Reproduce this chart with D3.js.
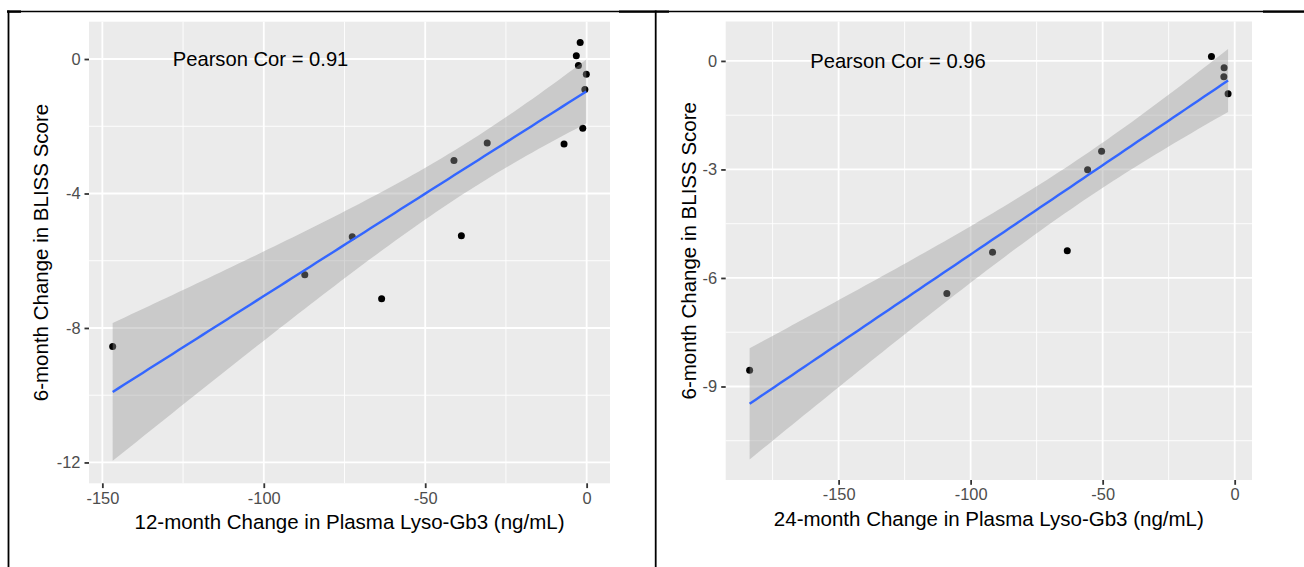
<!DOCTYPE html>
<html>
<head>
<meta charset="utf-8">
<script src="https://cdn.jsdelivr.net/npm/d3@7"></script>
<style>
  html, body { margin: 0; padding: 0; background: #ffffff; }
  svg { display: block; }
  text { font-family: "Liberation Sans", Arial, sans-serif; }
</style>
</head>
<body>
<svg id="chart" width="1304" height="567"></svg>
<script>
// ---------------- DATA ----------------
// Panel 1: 12-month change in plasma Lyso-Gb3 vs 6-month change in BLISS score
const lysoChange12 = [-146.8, -87.3, -72.6, -63.5, -41.1, -38.8, -30.8, -7.0, -3.2, -2.0, -2.55, -0.1, -0.55, -1.2];
const blissChangeA = [-8.55, -6.42, -5.29, -7.13, -3.02, -5.26, -2.50, -2.53, 0.10, 0.49, -0.19, -0.45, -0.91, -2.06];
// Panel 2: 24-month change in plasma Lyso-Gb3 vs 6-month change in BLISS score
const lysoChange24 = [-183.7, -109.0, -91.7, -63.4, -55.7, -50.4, -8.8, -4.0, -4.1, -2.5];
const blissChangeB = [-8.55, -6.43, -5.29, -5.25, -3.01, -2.50, 0.12, -0.19, -0.44, -0.91];

const xTicksA = [-150, -100, -50, 0];
const yTicksA = [0, -4, -8, -12];
const xTicksB = [-150, -100, -50, 0];
const yTicksB = [0, -3, -6, -9];

// visible axis limits
const yLimitsA = [-12.62, 1.11];
const yLimitsB = [-11.585, 1.09];

const xTitles = ["12-month Change in Plasma Lyso-Gb3 (ng/mL)", "24-month Change in Plasma Lyso-Gb3 (ng/mL)"];
const yTitle = "6-month Change in BLISS Score";
const pearsonLabels = ["Pearson Cor = 0.91", "Pearson Cor = 0.96"];
const labelAnchorX = [-101, -127.5];   // data x of the correlation label
const labelAnchorY = [0, 0];           // data y of the correlation label

// ---------------- LAYOUT ----------------
const panels = [
  { x: lysoChange12, y: blissChangeA, xt: xTicksA, yt: yTicksA, yl: yLimitsA,
    box: { x0: 89, x1: 610, y0: 21.7, y1: 483.3 }, yTitleX: 40 },
  { x: lysoChange24, y: blissChangeB, xt: xTicksB, yt: yTicksB, yl: yLimitsB,
    box: { x0: 725.7, x1: 1252, y0: 21.5, y1: 480 }, yTitleX: 688 }
];

const svg = d3.select("#chart");

// ---------------- table borders ----------------
const borders = svg.append("g").attr("stroke", "#000");
borders.append("line").attr("x1", 7).attr("x2", 1304).attr("y1", 11.5).attr("y2", 11.5).attr("stroke-width", 1.6);
[[7, 21], [619, 669], [1263, 1304]].forEach(s => {
  borders.append("line").attr("x1", s[0]).attr("x2", s[1]).attr("y1", 11.6).attr("y2", 11.6).attr("stroke-width", 2.4);
});
borders.append("line").attr("x1", 8.5).attr("x2", 8.5).attr("y1", 10.5).attr("y2", 567).attr("stroke-width", 1.8);
borders.append("line").attr("x1", 655.7).attr("x2", 655.7).attr("y1", 10.5).attr("y2", 567).attr("stroke-width", 1.8);

// ---------------- stats helpers ----------------
function tQuantile975(df) {
  // with t = sqrt(df) tan(th): P(0<T<t) = 0.5 * int_0^th cos^(df-1) / int_0^(pi/2) cos^(df-1)
  const f = th => Math.pow(Math.cos(th), df - 1);
  const simpson = (a, b, n) => {
    const h = (b - a) / n; let acc = f(a) + f(b);
    for (let i = 1; i < n; i++) acc += f(a + i * h) * (i % 2 ? 4 : 2);
    return acc * h / 3;
  };
  const total = simpson(0, Math.PI / 2, 2000);
  let lo = 0, hi = Math.PI / 2;
  for (let k = 0; k < 60; k++) {
    const mid = (lo + hi) / 2;
    if (simpson(0, mid, 2000) / total < 0.95) lo = mid; else hi = mid;
  }
  return Math.sqrt(df) * Math.tan((lo + hi) / 2);
}

function fitLm(xs, ys) {
  const n = xs.length;
  const mx = d3.mean(xs), my = d3.mean(ys);
  let sxx = 0, sxy = 0, syy = 0;
  for (let i = 0; i < n; i++) {
    const dx = xs[i] - mx, dy = ys[i] - my;
    sxx += dx * dx; sxy += dx * dy; syy += dy * dy;
  }
  const b = sxy / sxx, a = my - b * mx;
  const sd = Math.sqrt((syy - sxy * sxy / sxx) / (n - 2));
  const tc = tQuantile975(n - 2);
  const [xmin, xmax] = d3.extent(xs);
  return d3.range(80).map(i => {
    const x = xmin + (xmax - xmin) * i / 79;
    const fit = a + b * x;
    const se = sd * Math.sqrt(1 / n + (x - mx) * (x - mx) / sxx);
    return { x, fit, lo: fit - tc * se, hi: fit + tc * se };
  });
}

// ---------------- panels ----------------
panels.forEach((p, idx) => {
  const band = fitLm(p.x, p.y);
  const xr = d3.extent(p.x);
  const ex = (xr[1] - xr[0]) * 0.05;
  const x = d3.scaleLinear().domain([xr[0] - ex, xr[1] + ex]).range([p.box.x0, p.box.x1]);
  const y = d3.scaleLinear().domain(p.yl).range([p.box.y1, p.box.y0]);

  const g = svg.append("g");
  g.append("rect").attr("x", p.box.x0).attr("y", p.box.y0)
    .attr("width", p.box.x1 - p.box.x0).attr("height", p.box.y1 - p.box.y0).attr("fill", "#EBEBEB");

  const xStep = p.xt[1] - p.xt[0];
  const yStep = p.yt[0] - p.yt[1];
  const xMinor = d3.range(-20, 20).map(k => p.xt[0] + xStep * (k + 0.5)).filter(v => v > x.domain()[0] && v < x.domain()[1]);
  const yMinor = d3.range(-20, 20).map(k => p.yt[0] - yStep * (k + 0.5)).filter(v => v > y.domain()[0] && v < y.domain()[1]);

  const grid = g.append("g").attr("stroke", "#ffffff");
  grid.selectAll(".mx").data(xMinor).join("line")
    .attr("x1", d => x(d)).attr("x2", d => x(d)).attr("y1", p.box.y0).attr("y2", p.box.y1).attr("stroke-width", 0.9);
  grid.selectAll(".my").data(yMinor).join("line")
    .attr("y1", d => y(d)).attr("y2", d => y(d)).attr("x1", p.box.x0).attr("x2", p.box.x1).attr("stroke-width", 0.9);
  grid.selectAll(".Mx").data(p.xt).join("line")
    .attr("x1", d => x(d)).attr("x2", d => x(d)).attr("y1", p.box.y0).attr("y2", p.box.y1).attr("stroke-width", 1.8);
  grid.selectAll(".My").data(p.yt).join("line")
    .attr("y1", d => y(d)).attr("y2", d => y(d)).attr("x1", p.box.x0).attr("x2", p.box.x1).attr("stroke-width", 1.8);

  // points
  g.append("g").selectAll("circle").data(p.x.map((v, i) => [v, p.y[i]])).join("circle")
    .attr("cx", d => x(d[0])).attr("cy", d => y(d[1])).attr("r", 3.5).attr("fill", "#000");

  // ribbon
  g.append("path").datum(band)
    .attr("d", d3.area().x(d => x(d.x)).y0(d => y(d.lo)).y1(d => y(d.hi)))
    .attr("fill", "#999999").attr("fill-opacity", 0.4);
  // fitted line
  g.append("path").datum(band)
    .attr("d", d3.line().x(d => x(d.x)).y(d => y(d.fit)))
    .attr("fill", "none").attr("stroke", "#3366FF").attr("stroke-width", 2.4);

  // annotation
  g.append("text").attr("x", x(labelAnchorX[idx])).attr("y", y(labelAnchorY[idx]))
    .attr("text-anchor", "middle").attr("dominant-baseline", "central")
    .attr("font-size", 20.2).attr("fill", "#000").text(pearsonLabels[idx]);

  // axes
  const xAxis = d3.axisBottom(x).tickValues(p.xt).tickFormat(d => String(d)).tickSize(4.8).tickPadding(4);
  const ax = g.append("g").attr("transform", `translate(0,${p.box.y1})`).call(xAxis);
  ax.select(".domain").remove();
  ax.selectAll("line").attr("stroke", "#333333").attr("stroke-width", 1.8);
  ax.selectAll("text").attr("font-size", 16.4).attr("fill", "#4D4D4D")
    .attr("font-family", "Liberation Sans, Arial, sans-serif");

  const yAxis = d3.axisLeft(y).tickValues(p.yt).tickFormat(d => String(d)).tickSize(4.5).tickPadding(4);
  const ay = g.append("g").attr("transform", `translate(${p.box.x0},0)`).call(yAxis);
  ay.select(".domain").remove();
  ay.selectAll("line").attr("stroke", "#333333").attr("stroke-width", 1.8);
  ay.selectAll("text").attr("font-size", 16.4).attr("fill", "#4D4D4D")
    .attr("font-family", "Liberation Sans, Arial, sans-serif");

  // titles
  g.append("text").attr("x", (p.box.x0 + p.box.x1) / 2).attr("y", p.box.y1 + 38.5)
    .attr("text-anchor", "middle").attr("dominant-baseline", "central")
    .attr("font-size", 20.5).attr("fill", "#000").text(xTitles[idx]);
  const cy = (p.box.y0 + p.box.y1) / 2;
  g.append("text").attr("transform", `translate(${p.yTitleX},${cy}) rotate(-90)`)
    .attr("text-anchor", "middle").attr("dominant-baseline", "central")
    .attr("font-size", 20.5).attr("fill", "#000").text(yTitle);
});
</script>
</body>
</html>
